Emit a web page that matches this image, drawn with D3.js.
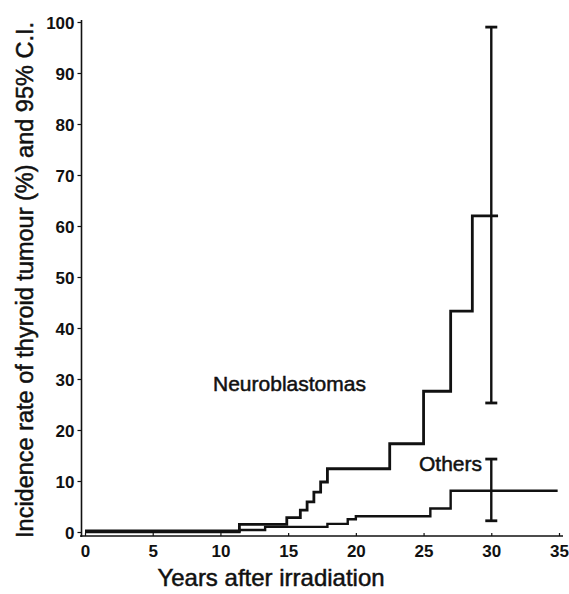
<!DOCTYPE html>
<html>
<head>
<meta charset="utf-8">
<script src="https://cdn.jsdelivr.net/npm/d3@7"></script>
<style>
  body { margin: 0; background: #fff; }
  text { font-family: "Liberation Sans", Arial, sans-serif; fill: #111; }
</style>
</head>
<body>
<div id="chart"></div>
<script>
// step curves (years, incidence %)
var neuroYears = [0, 11.4, 14.9, 15.9, 16.4, 16.9, 17.4, 17.9, 22.5, 25.0, 27.0, 28.6, 30.5];
var neuroRate  = [0.2, 1.5, 2.8, 4.3, 5.9, 7.8, 9.8, 12.4, 17.3, 27.6, 43.3, 62.0, 62.0];

var otherYears = [0, 11.4, 13.3, 17.9, 19.4, 20.0, 25.5, 27.0, 34.9];
var otherRate  = [0, 0.4, 1.0, 1.6, 2.5, 3.1, 4.6, 8.1, 8.1];

// 95% C.I. at 30 years
var ciYear = 30;
var ciLow  = [25.3, 2.2];
var ciHigh = [99, 14.3];

var xTicks = [0, 5, 10, 15, 20, 25, 30, 35];
var yTicks = [0, 10, 20, 30, 40, 50, 60, 70, 80, 90, 100];

var width = 569, height = 594;

var svg = d3.select("#chart")
  .append("svg")
    .attr("width", width)
    .attr("height", height);

var x = d3.scaleLinear().domain([0, 35]).range([85, 559]);
var y = d3.scaleLinear().domain([0, 100]).range([532, 22]);

// axes
var yAxis = svg.append("g")
  .attr("transform", "translate(81.5,0)")
  .call(d3.axisLeft(y).tickValues(yTicks).tickSize(4).tickSizeOuter(0).tickPadding(3));

var xAxis = svg.append("g")
  .attr("transform", "translate(0,536)")
  .call(d3.axisBottom(x).tickValues(xTicks).tickSize(-3).tickSizeOuter(0).tickPadding(9));

svg.selectAll(".domain").remove();
svg.selectAll(".tick line").attr("stroke", "#111").attr("stroke-width", 1.2);

svg.append("line")
  .attr("x1", 81.5).attr("x2", 81.5)
  .attr("y1", 20).attr("y2", 537)
  .attr("stroke", "#111").attr("stroke-width", 1.6);
svg.append("line")
  .attr("x1", 80).attr("x2", 563)
  .attr("y1", 536).attr("y2", 536)
  .attr("stroke", "#111").attr("stroke-width", 1.6);

yAxis.selectAll("text")
  .style("font-size", "17px")
  .style("font-weight", "bold")
  .attr("dy", "0.36em");
xAxis.selectAll("text")
  .style("font-size", "17px")
  .style("font-weight", "bold");

// step lines
var step = d3.line()
  .x(function(d) { return x(d[0]); })
  .y(function(d) { return y(d[1]); })
  .curve(d3.curveStepAfter);

var neuro = d3.zip(neuroYears, neuroRate);
var others = d3.zip(otherYears, otherRate);

svg.append("path")
  .attr("d", step(others))
  .attr("fill", "none")
  .attr("stroke", "#111")
  .attr("stroke-width", 2.4);

svg.append("path")
  .attr("d", step(neuro))
  .attr("fill", "none")
  .attr("stroke", "#111")
  .attr("stroke-width", 2.8);

// error bars
ciLow.forEach(function(lo, i) {
  var g = svg.append("g").attr("stroke", "#111");
  g.append("line")
    .attr("x1", x(ciYear)).attr("x2", x(ciYear))
    .attr("y1", y(lo)).attr("y2", y(ciHigh[i]))
    .attr("stroke-width", 2.4);
  [lo, ciHigh[i]].forEach(function(v) {
    g.append("line")
      .attr("x1", x(ciYear) - 6).attr("x2", x(ciYear) + 6)
      .attr("y1", y(v)).attr("y2", y(v))
      .attr("stroke-width", 2.8);
  });
});

// labels
svg.append("text")
  .attr("x", 213).attr("y", 391)
  .style("font-size", "21px")
  .style("stroke", "#111").style("stroke-width", 0.5)
  .text("Neuroblastomas");

svg.append("text")
  .attr("x", 419).attr("y", 471)
  .style("font-size", "21px")
  .style("stroke", "#111").style("stroke-width", 0.5)
  .text("Others");

svg.append("text")
  .attr("x", 271).attr("y", 586)
  .attr("text-anchor", "middle")
  .style("font-size", "24px")
  .style("stroke", "#111").style("stroke-width", 0.5)
  .text("Years after irradiation");

svg.append("text")
  .attr("transform", "translate(33,280) rotate(-90)")
  .attr("text-anchor", "middle")
  .style("font-size", "23.5px")
  .style("stroke", "#111").style("stroke-width", 0.5)
  .text("Incidence rate of thyroid tumour (%) and 95% C.I.");
</script>
</body>
</html>
